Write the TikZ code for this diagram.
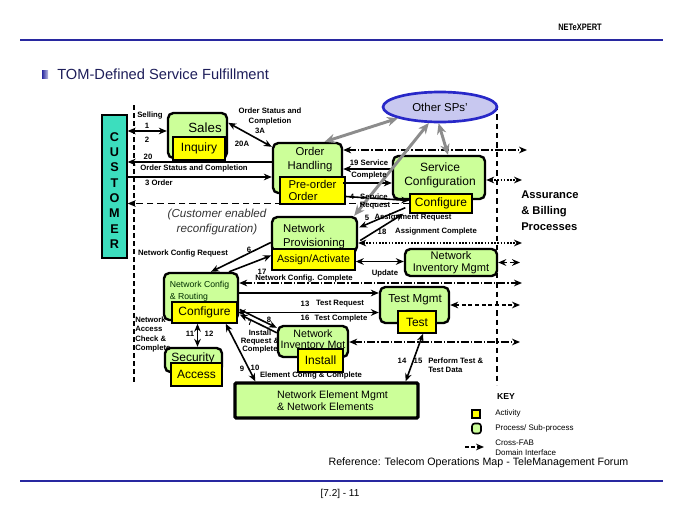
\documentclass[tikz,border=0pt]{standalone}
\usepackage{fontspec}
\setmainfont{Liberation Sans}
\usetikzlibrary{positioning,calc,arrows.meta,shapes.geometric,backgrounds}

\definecolor{procgreen}{RGB}{204,255,153}
\definecolor{actyellow}{RGB}{255,255,0}
\definecolor{custteal}{RGB}{60,222,190}
\definecolor{spfill}{RGB}{200,200,240}
\definecolor{spblue}{RGB}{40,40,200}
\definecolor{spgray}{RGB}{140,140,140}
\definecolor{rulenavy}{RGB}{40,40,160}
\definecolor{titlenavy}{RGB}{30,30,90}

\begin{document}
\begin{tikzpicture}[x=0.75pt,y=-0.75pt,
  >={Stealth[length=6pt,width=5pt]},
  boxsize/.style 2 args={minimum width=#1*0.75pt,minimum height=#2*0.75pt},
  procblock/.style={
    rectangle,
    rounded corners=4pt,
    draw=black,
    line width=1.8pt,
    fill=procgreen,
    inner sep=0pt
  },
  actblock/.style={
    rectangle,
    draw=black,
    line width=1.1pt,
    fill=actyellow,
    inner sep=0pt,
    font=\fontsize{9}{10}\selectfont
  },
  custblock/.style={rectangle,draw=black,line width=1pt,fill=custteal,inner sep=0pt},
  proctext/.style={align=center,inner sep=0pt,font=\fontsize{8.5}{10.5}\selectfont},
  lbl/.style={inner sep=0pt,font=\bfseries\fontsize{5.8}{7.5}\selectfont},
  keytext/.style={anchor=west,inner sep=0pt,align=left,font=\fontsize{6}{7.5}\selectfont},
  flow/.style={->,line width=1.2pt},
  flow2/.style={<->,line width=1.2pt},
  crossfab/.style={<->,line width=1.2pt,dash pattern=on 6pt off 1.5pt on 1pt off 1.5pt},
  dotfab/.style={<->,line width=1.2pt,dash pattern=on 1.2pt off 1.2pt},
  dashfab/.style={<->,line width=1.2pt,dash pattern=on 3pt off 2pt},
  extsp/.style={{Stealth[length=8pt,width=7pt]}-{Stealth[length=8pt,width=7pt]},draw=spgray,line width=2.2pt}]

  \useasboundingbox (0,0) rectangle (680,510);

  % page frame
  \node[inner sep=0pt,font=\bfseries\fontsize{7}{8}\selectfont] (brand) at (580,27) {\scalebox{0.8}[1]{NETeXPERT}};
  \draw[rulenavy,line width=1.5pt] (20,40) -- (663,40);
  \draw[rulenavy,line width=1.5pt] (20,481) -- (663,481);
  \node[inner sep=0pt,boxsize={6}{8},left color=rulenavy,right color=rulenavy!30] (bullet) at (45,74) {};
  \node[anchor=west,inner sep=0pt,text=titlenavy,font=\fontsize{11}{12}\selectfont] (title) at (57,74) {TOM-Defined Service Fulfillment};
  \node[inner sep=0pt,font=\fontsize{8}{9}\selectfont] (refnote) at (478.5,463) {Reference: Telecom Operations Map - TeleManagement Forum};
  \node[inner sep=0pt,font=\fontsize{7.5}{9}\selectfont] (pageno) at (340,494) {[7.2] - 11};

  % domain boundaries
  \draw[line width=2pt,dash pattern=on 4pt off 2pt] (134,105) -- (134,382);
  \draw[line width=0.9pt,dash pattern=on 4pt off 3pt] (497,105) -- (497,385);

  % customer
  \node[custblock,boxsize={25}{143}] (cust) at (114.5,186.5) {};
  \node[align=center,inner sep=0pt,font=\bfseries\fontsize{9.5}{11.5}\selectfont] (custtxt) at (114.5,190.5) {C\\U\\S\\T\\O\\M\\E\\R};

  % level 1: sales, order handling, service configuration
  \node[procblock,boxsize={59}{45}] (sales) at (197.5,135.5) {};
  \node[proctext,font=\fontsize{10}{11}\selectfont] (salestxt) at (205,128) {Sales};
  \node[actblock,boxsize={52}{23}] (inquiry) at (199,148.5) {Inquiry};
  \node[procblock,boxsize={69}{50}] (order) at (307.5,168) {};
  \node[proctext] (ordertxt) at (310,160) {Order\\Handling};
  \node[actblock,boxsize={65}{27},align=left,font=\fontsize{8.5}{9.5}\selectfont] (preorder) at (312.5,190.5) {Pre-order\\Order};
  \node[procblock,boxsize={92}{43}] (svcconf) at (439,177.5) {};
  \node[proctext,font=\fontsize{9}{10.5}\selectfont] (svcconftxt) at (440,175) {Service\\Configuration};
  \node[actblock,boxsize={62}{19}] (svccfg) at (441,203.5) {Configure};
  \node[ellipse,draw=spblue,line width=2pt,fill=spfill,boxsize={114}{30},inner sep=0pt,font=\fontsize{8.6}{10}\selectfont] (othersp) at (440,107) {Other SPs'};

  % customer enabled reconfiguration, behind the boxes
  \begin{scope}[on background layer]
    \draw[line width=1.2pt,dash pattern=on 5pt off 3pt,->] (svccfg.west) -- (svccfg.west -| cust.east);
  \end{scope}

  % level 2: provisioning
  \node[procblock,boxsize={85}{35}] (netprov) at (314.5,234.5) {};
  \node[proctext,align=left] (netprovtxt) at (314,237) {Network\\Provisioning};
  \node[actblock,boxsize={83}{21},font=\fontsize{8}{9}\selectfont] (assign) at (313.5,259.5) {Assign/Activate};
  \node[procblock,boxsize={92}{27}] (nim1) at (451,262.5) {};
  \node[proctext,font=\fontsize{8.3}{8.6}\selectfont] (nim1txt) at (451,262.5) {Network\\Inventory Mgmt};

  % level 3: network side
  \node[procblock,boxsize={74}{47}] (ncr) at (201,296.5) {};
  \node[proctext,align=left,text=black!70!green!60!black,font=\fontsize{6.5}{9}\selectfont] (ncrtxt) at (199.5,291) {Network Config\\\& Routing};
  \node[actblock,boxsize={65}{21}] (ncrcfg) at (204.5,312.5) {Configure};
  \node[procblock,boxsize={69}{36}] (testm) at (414.5,305) {};
  \node[proctext,font=\fontsize{8.7}{10}\selectfont] (testmtxt) at (415,300) {Test Mgmt};
  \node[actblock,boxsize={38}{22}] (test) at (417,322) {Test};
  \node[procblock,boxsize={70}{31}] (nim2) at (313,341.5) {};
  \node[proctext,font=\fontsize{8}{8.6}\selectfont] (nim2txt) at (313,340.5) {Network\\Inventory Mgt};
  \node[actblock,boxsize={45}{23}] (install) at (320.5,360.5) {Install};
  \node[procblock,boxsize={57}{24}] (secur) at (193.5,360) {};
  \node[proctext,font=\fontsize{9}{10}\selectfont] (securtxt) at (193,358) {Security};
  \node[actblock,boxsize={51}{23}] (access) at (196.5,374.5) {Access};
  \node[procblock,rounded corners=1pt,line width=2.5pt,boxsize={183}{35}] (nem) at (326.5,400.5) {};
  \node[proctext,align=left,font=\fontsize{8}{9}\selectfont] (nemtxt) at (332.5,401) {Network Element Mgmt\\\& Network Elements};

  % customer interfaces
  \draw[flow2] ($(cust.east |- sales.west)+(0,-4.5)$) -- ($(sales.west)+(0,-4.5)$);
  \draw[flow2] ($(sales.north east)+(0,11)$) -- ($(order.north west)+(0,5)$);
  \draw[flow] ($(order.west)+(0,-6)$) -- ($(cust.east |- order.west)+(0,-6)$);
  \draw[flow] ($(cust.east |- order.west)+(0,9)$) -- ($(order.west)+(0,9)$);

  % order handling <-> service configuration
  \draw[flow] ($(svcconf.west)+(0,-8.5)$) -- ($(order.east |- svcconf.west)+(0,-8.5)$);
  \draw[flow] ($(order.east |- svcconf.west)+(0,5.5)$) -- ($(svcconf.west)+(0,5.5)$);
  \draw[flow] ($(preorder.east)+(0,6)$) -- ($(svccfg.west)+(0,-3)$);
  \draw[flow] ($(svccfg.south west)+(-4,-6)$) -- ($(netprov.east)+(1,-7)$);
  \draw[flow] ($(netprov.east)+(2,6)$) -- ($(svccfg.south west)+(-6,0)$);

  % provisioning
  \draw[flow2] ($(assign.east)+(0,2)$) -- ($(nim1.west)+(0,-1)$);
  \draw[flow] ($(netprov.west)+(0,8)$) -- ($(ncr.north)+(10,0)$);
  \draw[flow] ($(ncr.north)+(28,0)$) -- ($(assign.west)+(0,-4)$);

  % network config & routing
  \draw[flow] ($(ncr.east)+(0,-3.5)$) -- ($(testm.west |- ncr.east)+(0,-3.5)$);
  \draw[flow2] (ncrcfg.east) -- (ncrcfg.east -| testm.west);
  \draw[flow2] ($(ncrcfg.south)+(-7,0)$) -- ($(secur.north)+(4,0)$);
  \draw[flow] ($(ncrcfg.east)+(2,-3)$) -- ($(nim2.north west)+(0,3)$);
  \draw[flow] ($(nim2.north west)+(0,8)$) -- ($(ncrcfg.east)+(2,2)$);
  \draw[flow2] ($(ncrcfg.south east)+(-12,0)$) -- ($(nem.north west)+(22,0)$);
  \draw[flow2] ($(test.south)+(6,0)$) -- ($(nem.north east)+(-14,0)$);

  % cross-FAB interfaces
  \coordinate (fab1) at (527,150);
  \coordinate (fab2) at (522,180);
  \coordinate (fab3) at (522,243);
  \coordinate (fab4) at (520,262.5);
  \coordinate (fab5) at (522,283);
  \coordinate (fab6) at (520,305);
  \coordinate (fab7) at (520,342);
  \draw[crossfab] (fab1 -| order.east) -- (fab1);
  \draw[dotfab] (fab2 -| svcconf.east) -- (fab2);
  \draw[dotfab] (fab3 -| netprov.east) -- (fab3);
  \draw[dashfab] (nim1.east) -- (fab4);
  \draw[crossfab] (fab5 -| ncr.east) -- (fab5);
  \draw[dashfab] (testm.east) -- (fab6);
  \draw[crossfab] (fab7 -| nim2.east) -- (fab7);

  % other service providers
  \draw[extsp] ($(order.north)+(17,0)$) -- (othersp.195);
  \draw[extsp] ($(netprov.north east)+(-4,0)$) -- (othersp.235);
  \draw[extsp] ($(svcconf.north)+(9,0)$) -- (othersp.265);

  % flow labels
  \node[lbl] (lsell) at (150,116) {Selling};
  \node[lbl] (l1) at (147,126) {1};
  \node[lbl] (l2) at (147,140) {2};
  \node[lbl,align=center] (losc) at (270,116) {Order Status and\\Completion};
  \node[lbl] (l3a) at (260,131) {3A};
  \node[lbl] (l20a) at (242,144) {20A};
  \node[lbl] (l20) at (148,157) {20};
  \node[lbl] (losc2) at (194,168) {Order Status and Completion};
  \node[lbl] (l3) at (159,183) {3 Order};
  \node[align=center,inner sep=0pt,text=black!80,font=\itshape\fontsize{8.7}{11}\selectfont] (lreconf) at (217,222) {(Customer enabled\\reconfiguration)};
  \node[lbl] (l19) at (369,163) {19 Service};
  \node[lbl] (l19b) at (369,175) {Complete};
  \node[lbl] (l4) at (352,197) {4};
  \node[lbl] (l4b) at (374,197) {Service};
  \node[lbl] (l4c) at (375,206) {Request};
  \node[lbl] (l5) at (367,218) {5};
  \node[lbl] (l5b) at (413,218) {Assignment Request};
  \node[lbl] (l18) at (382,232) {18};
  \node[lbl] (l18b) at (436,232) {Assignment Complete};
  \node[lbl] (lupd) at (385,273) {Update};
  \node[lbl] (lncreq) at (183,254) {Network Config Request};
  \node[lbl] (l6) at (249,250) {6};
  \node[lbl] (l17) at (262,272) {17};
  \node[lbl] (l17b) at (304,279) {Network Config. Complete};
  \node[lbl] (l13) at (305,304) {13};
  \node[lbl] (l13b) at (340,304) {Test Request};
  \node[lbl] (l16) at (305,318) {16};
  \node[lbl] (l16b) at (341,318) {Test Complete};
  \node[lbl] (l11) at (190,334) {11};
  \node[lbl] (l12) at (209,334) {12};
  \node[lbl] (l8) at (269,320) {8};
  \node[lbl] (l7) at (250,323) {7};
  \node[lbl,align=center,font=\bfseries\fontsize{5.8}{6.2}\selectfont] (linst) at (260,341.5) {Install\\Request \&\\Complete};
  \node[lbl,anchor=west,align=left,font=\bfseries\fontsize{5.8}{6.8}\selectfont] (lnac) at (135,334.5) {Network\\Access\\Check \&\\Complete};
  \node[lbl] (l9) at (242,369) {9};
  \node[lbl] (l10) at (255,368) {10};
  \node[lbl] (lelem) at (311,376) {Element Config \& Complete};
  \node[lbl] (l14) at (402,361) {14};
  \node[lbl] (l15) at (418,361) {15};
  \node[lbl,anchor=west,align=left,font=\bfseries\fontsize{5.8}{6.8}\selectfont] (lperf) at (428,365.5) {Perform Test \&\\Test Data};
  \node[anchor=west,inner sep=0pt,align=left,font=\bfseries\fontsize{8.4}{12}\selectfont] (abp) at (521,211) {Assurance\\\& Billing\\Processes};

  % key
  \node[inner sep=0pt,font=\bfseries\fontsize{6.5}{8}\selectfont] (keyt) at (506,397) {KEY};
  \node[actblock,line width=0.9pt,boxsize={8}{8}] (keyact) at (476,414) {};
  \node[procblock,line width=1.2pt,rounded corners=2pt,boxsize={9}{10}] (keyproc) at (476.5,428.5) {};
  \coordinate (keya) at (465,447);
  \coordinate (keyb) at (484,447);
  \draw[->,line width=1.3pt,dash pattern=on 3pt off 1.5pt] (keya) -- (keyb);
  \node[keytext] (keyacttxt) at (495,413) {Activity};
  \node[keytext] (keyproctxt) at (495,428) {Process/ Sub-process};
  \node[keytext] (keyfabtxt) at (495,448) {Cross-FAB\\Domain Interface};
\end{tikzpicture}
\end{document}
